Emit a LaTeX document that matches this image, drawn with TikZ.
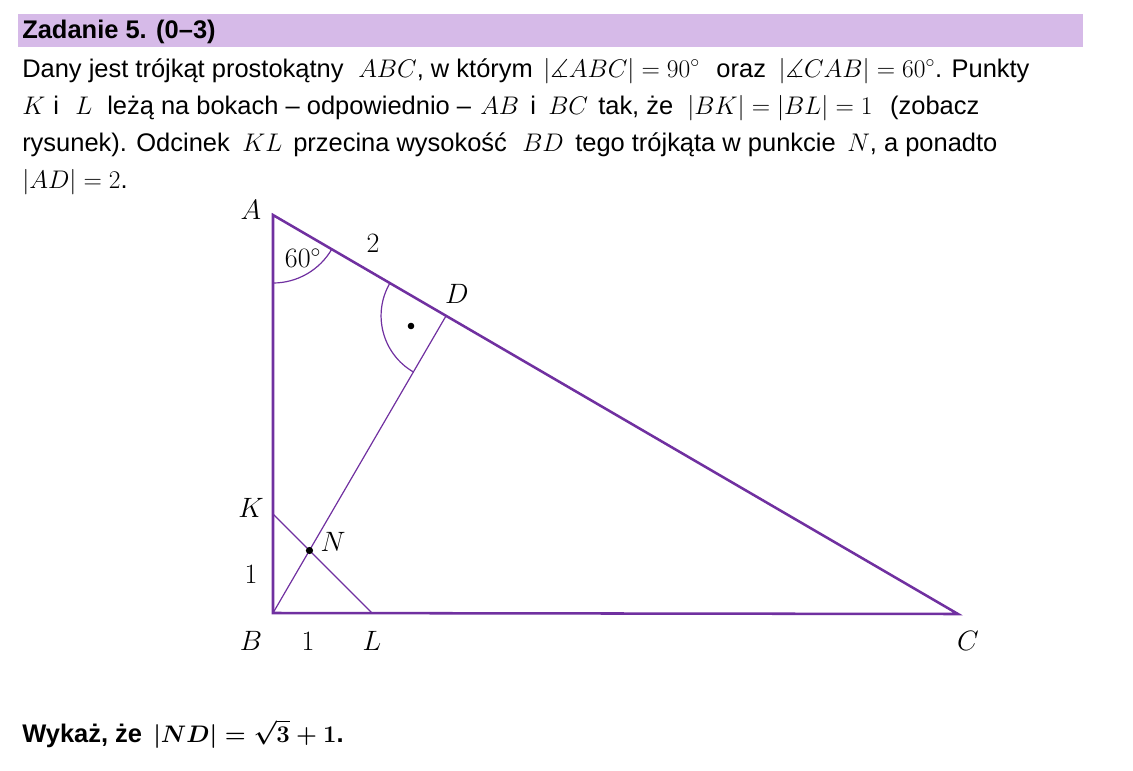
\RequirePackage{fix-cm}
\documentclass[tikz,border=0pt]{standalone}
\usepackage{amssymb}
\usepackage{fontspec}
\setmainfont{Liberation Sans}
\usetikzlibrary{calc}
\definecolor{vio}{RGB}{112,48,160}
\definecolor{barcol}{RGB}{214,186,232}
\begin{document}
\begin{tikzpicture}[x=0.75pt,y=-0.75pt,
  txt/.style={anchor=base west,inner sep=0,font=\fontsize{19.1}{22}\selectfont},
  boldtxt/.style={txt,font=\bfseries\fontsize{19.1}{22}\selectfont},
  lbl/.style={inner sep=0,font=\fontsize{21}{25}\selectfont},
  side/.style={vio,line width=1.9pt},
  thinline/.style={vio,line width=0.9pt}]
\useasboundingbox (0,0) rectangle (1133,771);
\fill[barcol] (18,14) rectangle (1083,47);
\node[boldtxt] (h) at (22,38.5) {Zadanie 5. (0--3)};
% line 1
\node[txt] (t1a) at (22,77) {Dany jest trójkąt prostokątny};
\node[txt] (t1b) at (358,77) {$ABC$, w którym};
\node[txt] (t1c) at ($(t1b.base east)+(10,0)$) {$|\measuredangle ABC| = 90^\circ$};
\node[txt] (t1d) at ($(t1c.base east)+(16,0)$) {oraz};
\node[txt] (t1e) at ($(t1d.base east)+(12,0)$) {$|\measuredangle CAB| = 60^\circ$. Punkty};
% line 2
\node[txt] (t2a) at (22,114) {$K$};
\node[txt] (t2b) at (53,114) {i};
\node[txt] (t2c) at (75,114) {$L$};
\node[txt] (t2d) at (107,114) {leżą na bokach -- odpowiednio --};
\node[txt] (t2e) at (480,114) {$AB$};
\node[txt] (t2f) at (530,114) {i};
\node[txt] (t2g) at (548,114) {$BC$};
\node[txt] (t2h) at (598,114) {tak, że};
\node[txt] (t2i) at (687,114) {$|BK| = |BL| = 1$};
\node[txt] (t2j) at ($(t2i.base east)+(17,0)$) {(zobacz};
% line 3
\node[txt] (t3a) at (22,151) {rysunek). Odcinek};
\node[txt] (t3b) at (242,151) {$KL$};
\node[txt] (t3c) at (293,151) {przecina wysokość};
\node[txt] (t3d) at (522,151) {$BD$};
\node[txt] (t3e) at (575,151) {tego trójkąta w punkcie};
\node[txt] (t3f) at (847,151) {$N$, a ponadto};
% line 4
\node[txt] (t4a) at (22,188) {$|AD| = 2$.};

\coordinate (A) at (273,215);
\coordinate (B) at (273,613);
\coordinate (C) at (958,614);
\coordinate (D) at ($(A)!(B)!(C)$);
\coordinate (K) at (273,514);
\coordinate (L) at (372,613);
\coordinate (N) at (intersection of B--D and K--L);

\draw[thinline] (B) -- (D);
\draw[thinline] (K) -- (L);
\draw[thinline] (A) ++(90:68) arc[start angle=90,end angle=30.15,radius=68];
\draw[thinline] (D) ++(210.15:65) arc[start angle=210.15,end angle=120.15,radius=65];
\draw[side,line join=miter] (A) -- (B) -- (C) -- cycle;
\fill (N) circle[radius=3.6];
\fill (411,326) circle[radius=3.3];

\node[lbl] (lA) at (251,210) {$A$};
\node[lbl] (l60) at (303,258) {$60^\circ$};
\node[lbl] (l2d) at (373,243) {$2$};
\node[lbl] (lD) at (457,294) {$D$};
\node[lbl] (lK) at (251,508) {$K$};
\node[lbl] (lN) at (333,542) {$N$};
\node[lbl] (l1k) at (251,574) {$1$};
\node[lbl] (lB) at (251,641) {$B$};
\node[lbl] (l1l) at (308,641) {$1$};
\node[lbl] (lL) at (372,641) {$L$};
\node[lbl] (lC) at (968,641) {$C$};
\node[boldtxt] (w1) at (22,742) {Wykaż, że};
\node[boldtxt] (w2) at (153,742) {\scalebox{0.94}{\mathversion{bold}$|ND| = \sqrt{3} + 1$}.};
\end{tikzpicture}
\end{document}
